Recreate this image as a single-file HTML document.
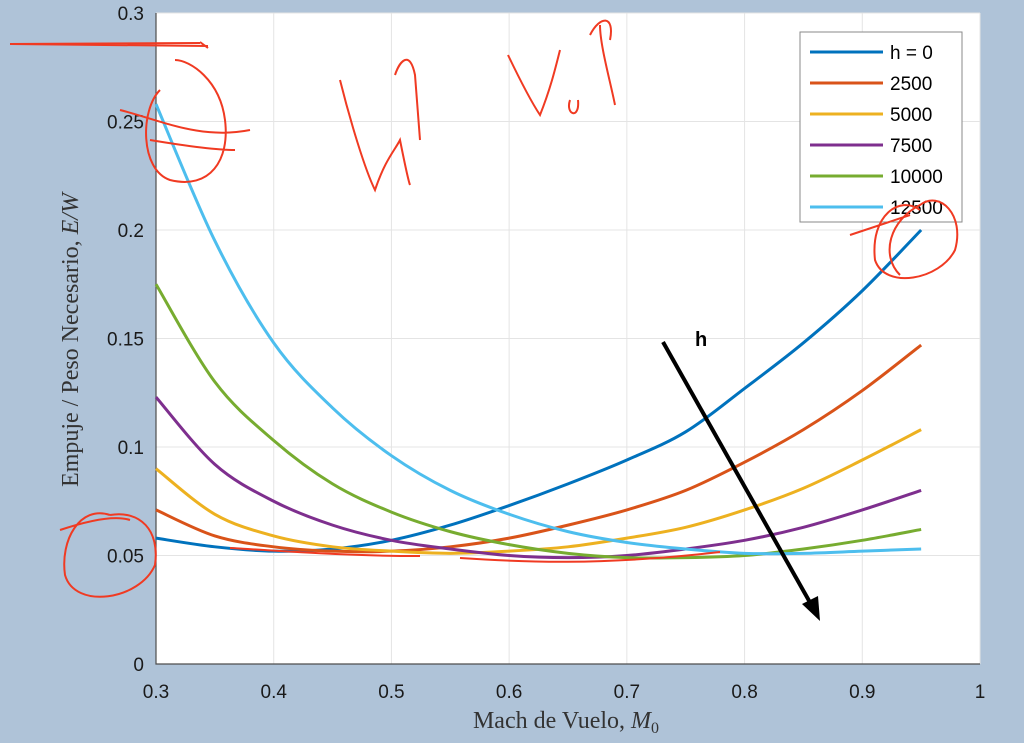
<!DOCTYPE html>
<html><head><meta charset="utf-8"><style>
body{margin:0;background:#afc3d8;}
svg{display:block;font-family:"Liberation Sans",sans-serif;}
</style></head><body>
<svg id="chart" width="1024" height="743" viewBox="0 0 1024 743">
<rect width="1024" height="743" fill="#afc3d8"/>
<rect x="156" y="13" width="824" height="651" fill="#ffffff"/>
<g id="grid"></g>
<g id="axes"></g>
<g id="series"></g>
<rect x="800" y="32" width="162" height="190" fill="#fff" stroke="#8a8a8a" stroke-width="1"/>
<g id="legend"></g>
<g>
<line x1="663" y1="342" x2="812" y2="606" stroke="#000" stroke-width="4"/>
<polygon points="820,621 802,604 818,596" fill="#000"/>
</g>
<text x="695" y="346" font-size="20" font-weight="bold" fill="#000">h</text>
<text x="566" y="728" text-anchor="middle" font-family="Liberation Serif, serif" font-size="24" fill="#333">Mach de Vuelo, <tspan font-style="italic">M</tspan><tspan font-size="16" dy="5">0</tspan></text>
<text transform="translate(78,340) rotate(-90)" text-anchor="middle" font-family="Liberation Serif, serif" font-size="24" fill="#333">Empuje / Peso Necesario, <tspan font-style="italic">E/W</tspan></text>
<g fill="none" stroke="#f03a22" stroke-width="2">
<path d="M10,44 L208,46 M10,44 L200,43 M200,42 L208,48"/>
<path d="M160,90 C140,110 140,170 170,180 C210,190 230,160 225,120 C220,80 190,60 175,60 M120,110 C160,120 200,140 250,130 M150,140 C180,145 215,150 235,150"/>
<path d="M340,80 C350,120 365,170 375,190 C385,160 395,150 400,140 C405,165 408,180 410,185 M395,75 C400,60 410,50 415,75 L420,140"/>
<path d="M508,55 C520,80 530,100 540,115 C550,90 555,70 560,50 M570,100 C565,115 580,120 578,100 M600,25 C600,45 610,80 615,105 M590,35 C600,15 615,15 610,40"/>
<path d="M920,210 C900,195 870,215 875,260 C885,290 940,280 955,250 C965,215 940,190 920,205 C890,220 880,255 900,275 M850,235 L910,215"/>
<path d="M110,515 C80,505 60,540 65,575 C75,610 140,600 155,565 C160,530 140,510 110,515 M60,530 C90,520 115,515 130,520"/>
<path d="M230,548 C300,552 350,556 420,556 M460,558 C520,562 600,566 720,552"/>
</g>
</svg>
<script>
const mach=[0.3,0.35,0.4,0.45,0.5,0.55,0.6,0.65,0.7,0.75,0.8,0.85,0.9,0.95];
const s0=[0.058,0.054,0.052,0.053,0.057,0.064,0.073,0.083,0.094,0.107,0.127,0.148,0.172,0.200];
const s2500=[0.071,0.059,0.054,0.052,0.052,0.054,0.058,0.064,0.071,0.080,0.093,0.108,0.126,0.147];
const s5000=[0.090,0.069,0.059,0.054,0.052,0.051,0.052,0.054,0.058,0.063,0.071,0.081,0.094,0.108];
const s7500=[0.123,0.092,0.075,0.064,0.057,0.053,0.050,0.049,0.050,0.053,0.057,0.063,0.071,0.080];
const s10000=[0.175,0.130,0.103,0.083,0.070,0.061,0.055,0.051,0.049,0.049,0.050,0.053,0.057,0.062];
const s12500=[0.258,0.195,0.148,0.118,0.096,0.080,0.069,0.061,0.056,0.053,0.051,0.051,0.052,0.053];
const seriesNames=["h = 0","2500","5000","7500","10000","12500"];
const xTicks=[0.3,0.4,0.5,0.6,0.7,0.8,0.9,1];
const yTicks=[0,0.05,0.1,0.15,0.2,0.25,0.3];
const yTickLabels=["0","0.05","0.1","0.15","0.2","0.25","0.3"];
const xTickLabels=["0.3","0.4","0.5","0.6","0.7","0.8","0.9","1"];
const colors=["#0072bd","#d95319","#edb120","#7e2f8e","#77ac30","#4dbeee"];
const NS="http://www.w3.org/2000/svg";
const X=v=>156+(v-0.3)/0.7*824;
const Y=v=>664-v/0.3*651;
function mk(tag,attrs,parent){const e=document.createElementNS(NS,tag);for(const k in attrs)e.setAttribute(k,attrs[k]);parent.appendChild(e);return e;}
function smooth(pts){let d='M'+pts[0][0]+','+pts[0][1];for(let i=0;i<pts.length-1;i++){const p0=pts[Math.max(0,i-1)],p1=pts[i],p2=pts[i+1],p3=pts[Math.min(pts.length-1,i+2)];const c1=[p1[0]+(p2[0]-p0[0])/6,p1[1]+(p2[1]-p0[1])/6],c2=[p2[0]-(p3[0]-p1[0])/6,p2[1]-(p3[1]-p1[1])/6];d+=' C'+c1+' '+c2+' '+p2;}return d;}
const grid=document.getElementById('grid'),axes=document.getElementById('axes'),ser=document.getElementById('series'),leg=document.getElementById('legend');
xTicks.forEach((t,i)=>{
 const l=mk('line',{x1:X(t),x2:X(t),y1:13,y2:664,stroke:'#e4e4e4','stroke-width':1},grid);
 
 
 const tx=mk('text',{x:X(t),y:698,'text-anchor':'middle','font-size':19,fill:'#1a1a1a'},axes);
 tx.textContent=xTickLabels[i];
 
 
});
yTicks.forEach((t,i)=>{
 const l=mk('line',{x1:156,x2:980,y1:Y(t),y2:Y(t),stroke:'#e4e4e4','stroke-width':1},grid);
 
 
 const tx=mk('text',{x:144,y:Y(t)+7,'text-anchor':'end','font-size':19,fill:'#1a1a1a'},axes);
 tx.textContent=yTickLabels[i];
 
 
});
const ax=mk('path',{d:'M156,13 L156,664 L980,664',fill:'none',stroke:'#4d4d4d','stroke-width':1.2},axes);


[s0,s2500,s5000,s7500,s10000,s12500].forEach((s,i)=>{
 const p=mk('path',{d:smooth(s.map((v,j)=>[X(mach[j]),Y(v)])),fill:'none',stroke:colors[i],'stroke-width':3,'stroke-linejoin':'round'},ser);
 
 
 const y=52+i*31;
 const ll=mk('line',{x1:810,x2:883,y1:y,y2:y,stroke:colors[i],'stroke-width':3},leg);
 
 
 const lt=mk('text',{x:890,y:y+7,'font-size':19,fill:'#000'},leg);
 lt.textContent=seriesNames[i];
 
 
});
</script>
</body></html>
